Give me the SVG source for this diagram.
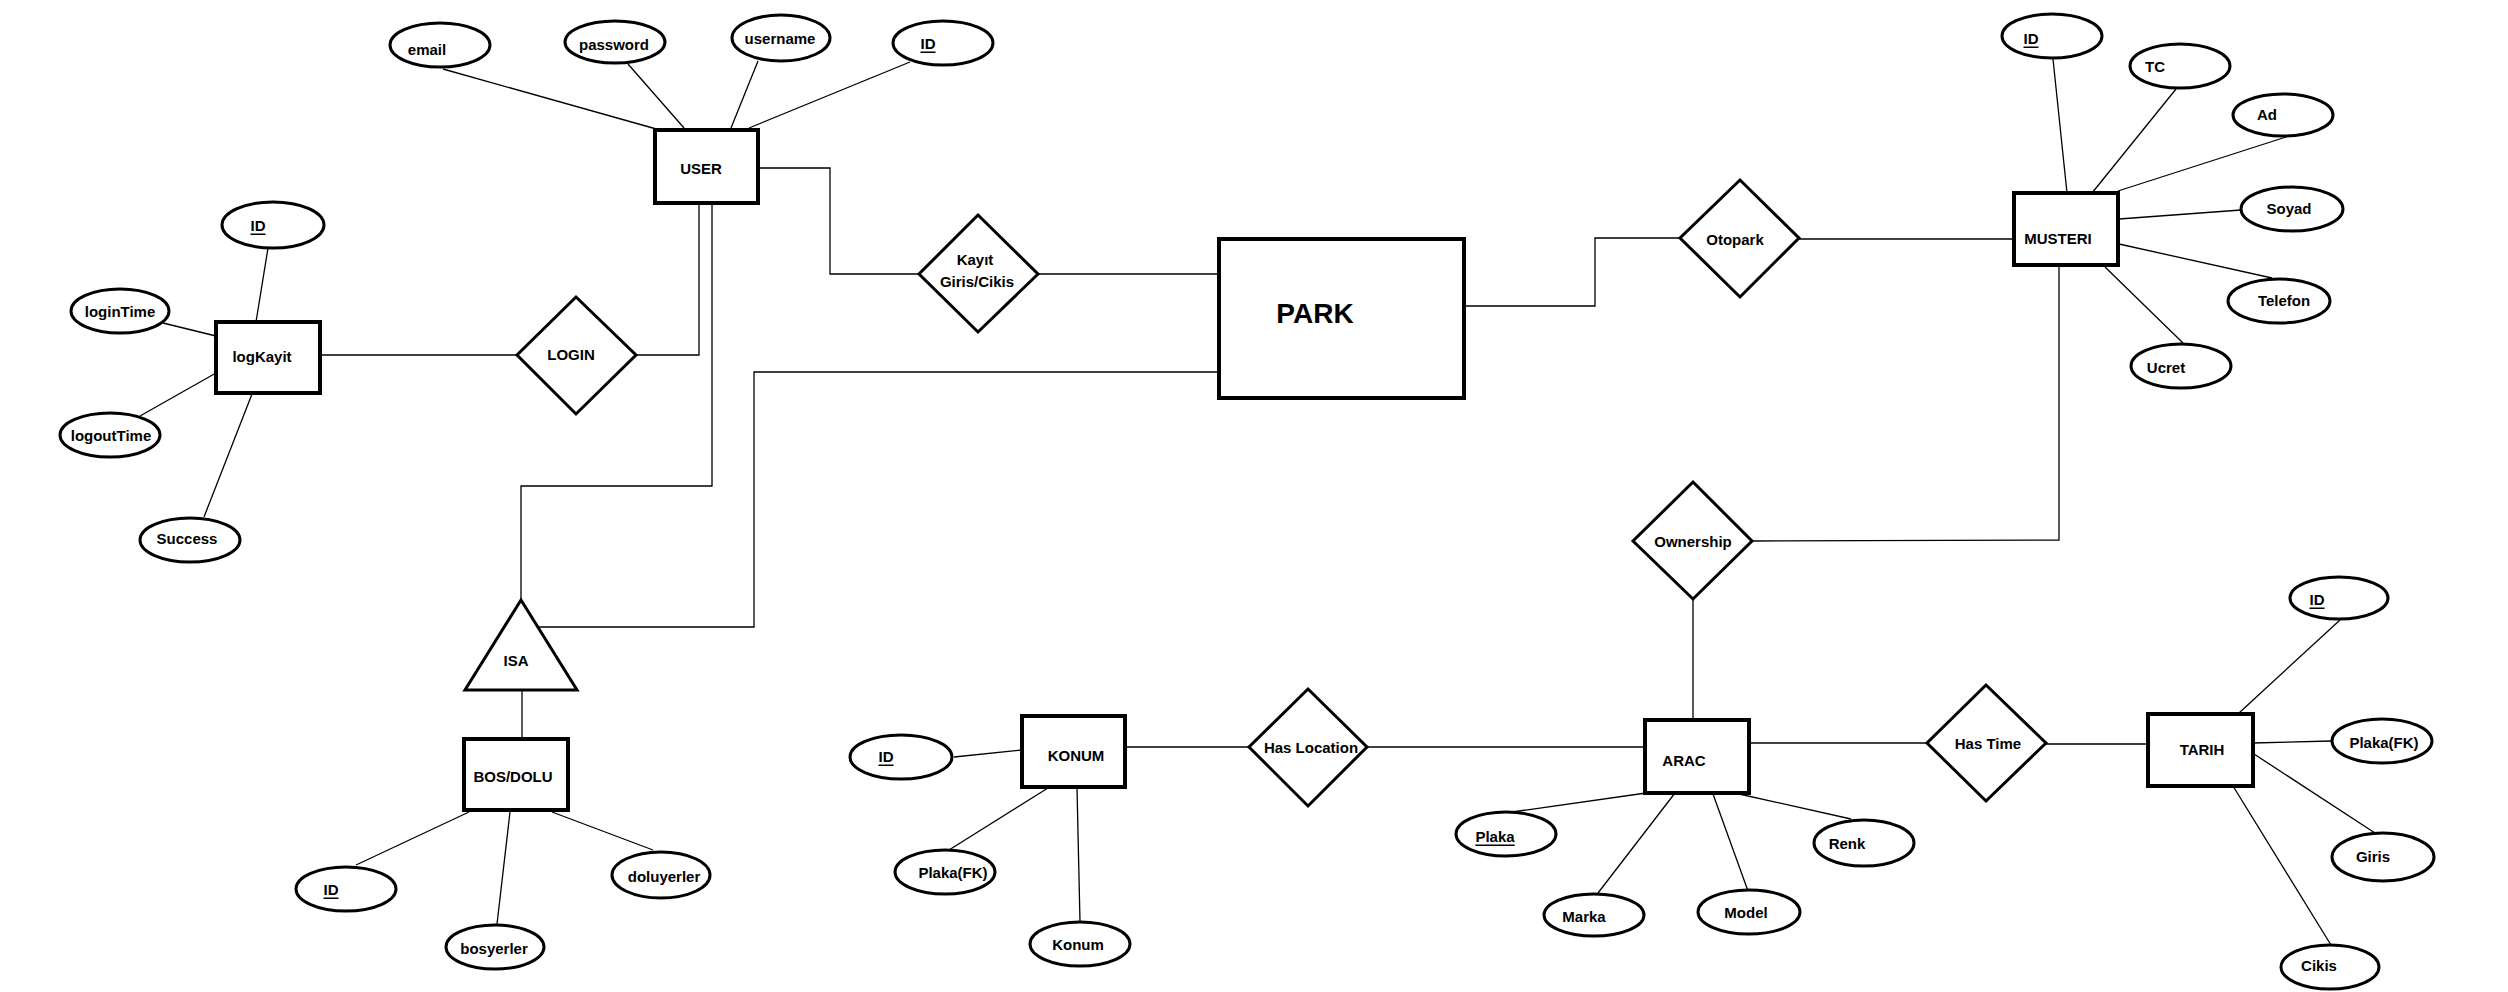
<svg xmlns="http://www.w3.org/2000/svg" width="2508" height="992" viewBox="0 0 2508 992">
<style>
.ent{fill:#fff;stroke:#000;stroke-width:4}
.park{fill:#fff;stroke:#000;stroke-width:4}
.rel{fill:#fff;stroke:#000;stroke-width:3}
.att{fill:#fff;stroke:#000;stroke-width:3}
.con{fill:none;stroke:#000;stroke-width:1.3}
text{font-family:"Liberation Sans",Arial,sans-serif;font-weight:bold;font-size:15px;fill:#000;text-anchor:middle;dominant-baseline:central}
.key{text-decoration:underline}
.big{font-size:28px}
</style>
<rect width="2508" height="992" fill="#fff"/>
<g id="connectors">
<line class="con" x1="443" y1="69" x2="667" y2="132"/>
<line class="con" x1="628" y1="64" x2="684" y2="128"/>
<line class="con" x1="758" y1="61" x2="731" y2="128"/>
<line class="con" x1="910" y1="62" x2="749" y2="128"/>
<polyline class="con" points="758,168 830,168 830,274 919,274"/>
<line class="con" x1="1038" y1="274" x2="1219" y2="274"/>
<polyline class="con" points="699,203 699,355 636,355"/>
<line class="con" x1="517" y1="355" x2="320" y2="355"/>
<polyline class="con" points="712,203 712,486 521,486 521,600"/>
<polyline class="con" points="1219,372 754,372 754,627 538,627"/>
<line class="con" x1="522" y1="690" x2="522" y2="739"/>
<line class="con" x1="356" y1="865" x2="469" y2="812"/>
<line class="con" x1="497" y1="924" x2="510" y2="812"/>
<line class="con" x1="653" y1="850" x2="552" y2="812"/>
<line class="con" x1="268" y1="248" x2="256" y2="322"/>
<line class="con" x1="163" y1="323" x2="216" y2="336"/>
<line class="con" x1="216" y1="373" x2="140" y2="416"/>
<line class="con" x1="252" y1="394" x2="204" y2="517"/>
<polyline class="con" points="1464,306 1595,306 1595,238 1680,238"/>
<line class="con" x1="1799" y1="239" x2="2014" y2="239"/>
<line class="con" x1="2053" y1="59" x2="2067" y2="193"/>
<line class="con" x1="2176" y1="89" x2="2092" y2="193"/>
<line class="con" x1="2286" y1="137" x2="2118" y2="191"/>
<line class="con" x1="2119" y1="219" x2="2241" y2="210"/>
<line class="con" x1="2119" y1="244" x2="2272" y2="278"/>
<line class="con" x1="2105" y1="267" x2="2183" y2="343"/>
<polyline class="con" points="2059,265 2059,540 1752,541"/>
<line class="con" x1="1693" y1="599" x2="1693" y2="720"/>
<line class="con" x1="1646" y1="747" x2="1367" y2="747"/>
<line class="con" x1="1249" y1="747" x2="1125" y2="747"/>
<line class="con" x1="954" y1="757" x2="1022" y2="750"/>
<line class="con" x1="949" y1="850" x2="1048" y2="788"/>
<line class="con" x1="1080" y1="922" x2="1077" y2="788"/>
<line class="con" x1="1749" y1="743" x2="1927" y2="743"/>
<line class="con" x1="2046" y1="744" x2="2148" y2="744"/>
<line class="con" x1="2340" y1="620" x2="2239" y2="713"/>
<line class="con" x1="2253" y1="743" x2="2331" y2="741"/>
<line class="con" x1="2254" y1="754" x2="2375" y2="833"/>
<line class="con" x1="2233" y1="786" x2="2331" y2="945"/>
<line class="con" x1="1739" y1="794" x2="1851" y2="819"/>
<line class="con" x1="1713" y1="794" x2="1748" y2="891"/>
<line class="con" x1="1675" y1="793" x2="1598" y2="893"/>
<line class="con" x1="1646" y1="793" x2="1512" y2="812"/>
</g>
<g id="user-email"><ellipse class="att" cx="440" cy="45" rx="50" ry="22"/><text x="427" y="49">email</text></g>
<g id="user-password"><ellipse class="att" cx="615" cy="42" rx="50" ry="21"/><text x="614" y="44">password</text></g>
<g id="user-username"><ellipse class="att" cx="781" cy="38" rx="49" ry="23"/><text x="780" y="38">username</text></g>
<g id="user-id"><ellipse class="att" cx="943" cy="43" rx="50" ry="22"/><text class="key" x="928" y="43">ID</text></g>
<g id="user"><rect class="ent" x="655" y="130" width="103" height="73"/><text x="701" y="168">USER</text></g>
<g id="logkayit-id"><ellipse class="att" cx="273" cy="225" rx="51" ry="23"/><text class="key" x="258" y="225">ID</text></g>
<g id="logintime"><ellipse class="att" cx="120" cy="311" rx="49" ry="22"/><text x="120" y="311">loginTime</text></g>
<g id="logouttime"><ellipse class="att" cx="110" cy="435" rx="50" ry="22"/><text x="111" y="435">logoutTime</text></g>
<g id="success"><ellipse class="att" cx="190" cy="540" rx="50" ry="22"/><text x="187" y="538">Success</text></g>
<g id="logkayit"><rect class="ent" x="216" y="322" width="104" height="71"/><text x="262" y="356">logKayit</text></g>
<g id="login"><polygon class="rel" points="576,297 636,355 576,414 517,355"/><text x="571" y="354">LOGIN</text></g>
<g id="kayit"><polygon class="rel" points="978,215 1038,274 978,332 919,274"/><text x="975" y="259">Kayıt</text><text x="977" y="281">Giris/Cikis</text></g>
<g id="park"><rect class="park" x="1219" y="239" width="245" height="159"/><text class="big" x="1315" y="313">PARK</text></g>
<g id="otopark"><polygon class="rel" points="1740,180 1799,238 1740,297 1680,238"/><text x="1735" y="239">Otopark</text></g>
<g id="musteri"><rect class="ent" x="2014" y="193" width="104" height="72"/><text x="2058" y="238">MUSTERI</text></g>
<g id="musteri-id"><ellipse class="att" cx="2052" cy="36" rx="50" ry="22"/><text class="key" x="2031" y="38">ID</text></g>
<g id="tc"><ellipse class="att" cx="2180" cy="66" rx="50" ry="22"/><text x="2155" y="66">TC</text></g>
<g id="ad"><ellipse class="att" cx="2283" cy="115" rx="50" ry="21"/><text x="2267" y="114">Ad</text></g>
<g id="soyad"><ellipse class="att" cx="2292" cy="209" rx="51" ry="22"/><text x="2289" y="208">Soyad</text></g>
<g id="telefon"><ellipse class="att" cx="2279" cy="301" rx="51" ry="22"/><text x="2284" y="300">Telefon</text></g>
<g id="ucret"><ellipse class="att" cx="2181" cy="366" rx="50" ry="22"/><text x="2166" y="367">Ucret</text></g>
<g id="isa"><polygon class="rel" points="521,600 577,690 465,690"/><text x="516" y="660">ISA</text></g>
<g id="bosdolu"><rect class="ent" x="464" y="739" width="104" height="71"/><text x="513" y="776">BOS/DOLU</text></g>
<g id="bosdolu-id"><ellipse class="att" cx="346" cy="889" rx="50" ry="22"/><text class="key" x="331" y="889">ID</text></g>
<g id="bosyerler"><ellipse class="att" cx="495" cy="947" rx="49" ry="22"/><text x="494" y="948">bosyerler</text></g>
<g id="doluyerler"><ellipse class="att" cx="661" cy="875" rx="49" ry="23"/><text x="664" y="876">doluyerler</text></g>
<g id="ownership"><polygon class="rel" points="1693,482 1752,541 1693,599 1633,541"/><text x="1693" y="541">Ownership</text></g>
<g id="konum"><rect class="ent" x="1022" y="716" width="103" height="71"/><text x="1076" y="755">KONUM</text></g>
<g id="konum-id"><ellipse class="att" cx="901" cy="757" rx="51" ry="22"/><text class="key" x="886" y="756">ID</text></g>
<g id="konum-plaka"><ellipse class="att" cx="945" cy="872" rx="50" ry="22"/><text x="953" y="872">Plaka(FK)</text></g>
<g id="konum-konum"><ellipse class="att" cx="1080" cy="944" rx="50" ry="22"/><text x="1078" y="944">Konum</text></g>
<g id="haslocation"><polygon class="rel" points="1308,689 1367,747 1308,806 1249,747"/><text x="1311" y="747">Has Location</text></g>
<g id="arac"><rect class="ent" x="1645" y="720" width="104" height="73"/><text x="1684" y="760">ARAC</text></g>
<g id="arac-plaka"><ellipse class="att" cx="1506" cy="834" rx="50" ry="22"/><text class="key" x="1495" y="836">Plaka</text></g>
<g id="marka"><ellipse class="att" cx="1594" cy="915" rx="50" ry="21"/><text x="1584" y="916">Marka</text></g>
<g id="model"><ellipse class="att" cx="1749" cy="912" rx="51" ry="22"/><text x="1746" y="912">Model</text></g>
<g id="renk"><ellipse class="att" cx="1864" cy="843" rx="50" ry="23"/><text x="1847" y="843">Renk</text></g>
<g id="hastime"><polygon class="rel" points="1986,685 2046,743 1986,801 1927,743"/><text x="1988" y="743">Has Time</text></g>
<g id="tarih"><rect class="ent" x="2148" y="714" width="105" height="72"/><text x="2202" y="749">TARIH</text></g>
<g id="tarih-id"><ellipse class="att" cx="2339" cy="598" rx="49" ry="21"/><text class="key" x="2317" y="599">ID</text></g>
<g id="tarih-plaka"><ellipse class="att" cx="2382" cy="741" rx="50" ry="22"/><text x="2384" y="742">Plaka(FK)</text></g>
<g id="giris"><ellipse class="att" cx="2383" cy="857" rx="51" ry="24"/><text x="2373" y="856">Giris</text></g>
<g id="cikis"><ellipse class="att" cx="2330" cy="967" rx="49" ry="22"/><text x="2319" y="965">Cikis</text></g>
</svg>
